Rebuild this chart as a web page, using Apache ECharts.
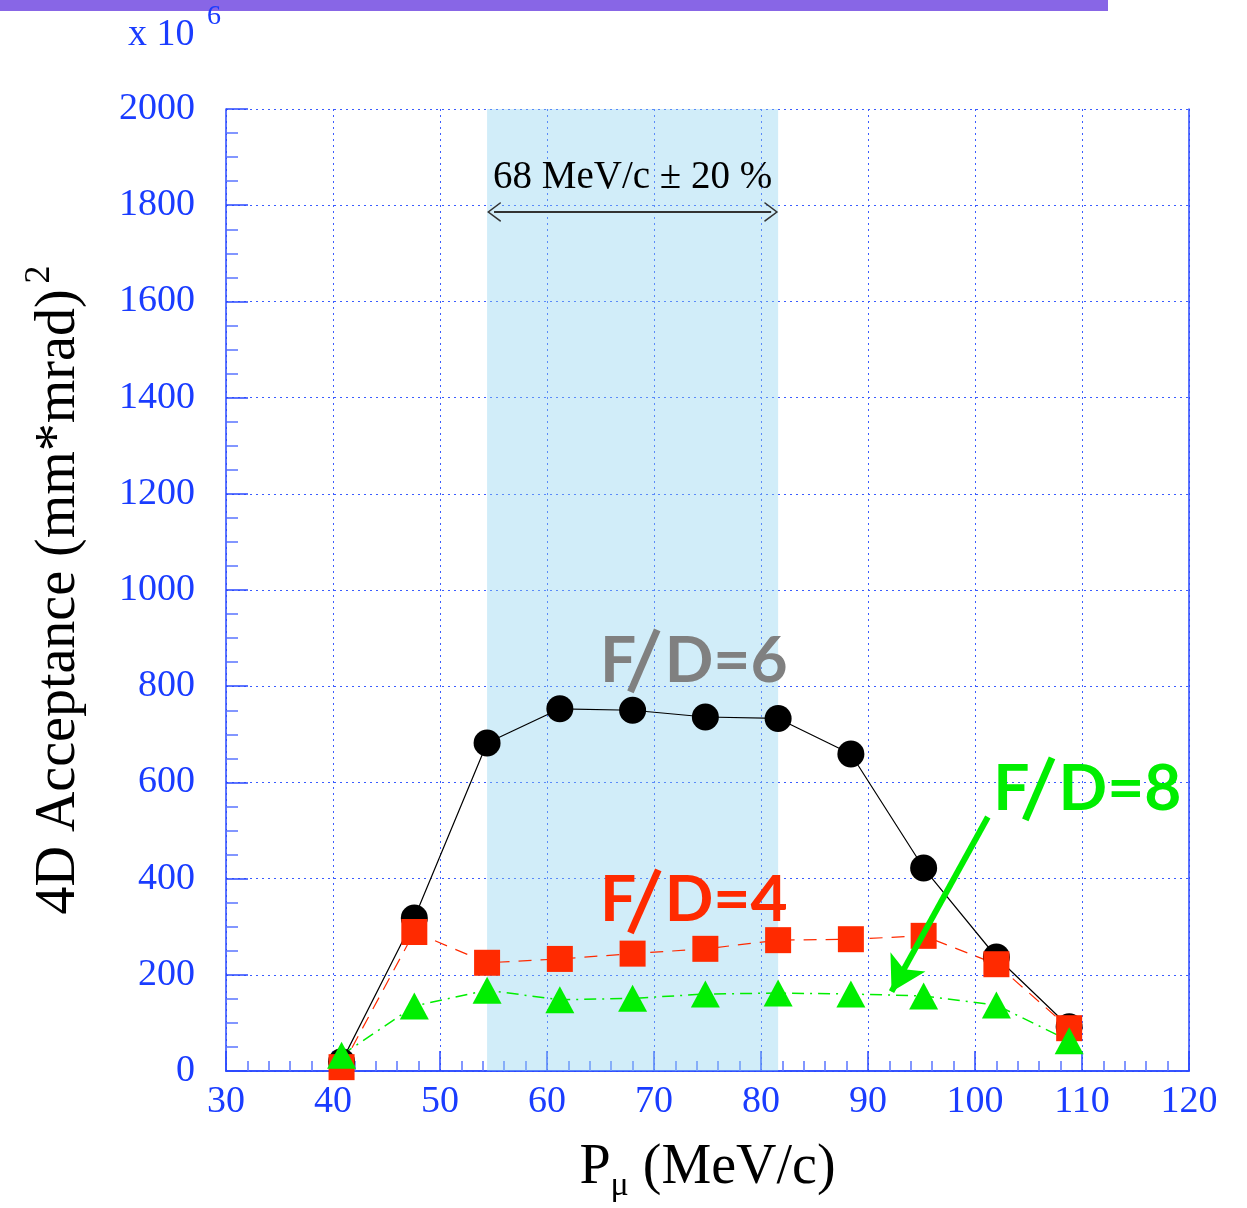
<!DOCTYPE html>
<html>
<head>
<meta charset="utf-8">
<script src="https://cdn.jsdelivr.net/npm/echarts@6/dist/echarts.min.js"></script>
<style>
  html, body { margin: 0; padding: 0; background: #fff; }
  #chart { width: 1247px; height: 1208px; }
</style>
</head>
<body>
<div id="chart"></div>
<script>
// momentum points: 68 MeV/c -40% .. +60% in 10% steps
var pMu = [40.8, 47.6, 54.4, 61.2, 68.0, 74.8, 81.6, 88.4, 95.2, 102.0, 108.8];
var fd6 = [19, 318, 682, 753, 750, 736, 733, 659, 422, 237, 92];
var fd4 = [8, 289, 225, 233, 244, 254, 272, 274, 281, 222, 89];
var fd8 = [33, 135, 168, 148, 151, 160, 162, 160, 156, 137, 63];
var xTicks = [30, 40, 50, 60, 70, 80, 90, 100, 110, 120];
var yTicks = [0, 200, 400, 600, 800, 1000, 1200, 1400, 1600, 1800, 2000];
var band = [54.4, 81.6];

var BLUE = '#1a3cff';
var RED = '#ff2a00';
var GREEN = '#00ee00';

function pairs(xs, ys) {
  return xs.map(function (x, i) { return [x, ys[i]]; });
}

var chart = echarts.init(document.getElementById('chart'));

var option = {
  animation: false,
  backgroundColor: '#fff',
  grid: { left: 226, right: 58, top: 109, bottom: 137 },
  xAxis: [{
    type: 'value',
    min: xTicks[0],
    max: xTicks[xTicks.length - 1],
    interval: 10,
    name: '{a|P}{b|μ}{a| (MeV/c)}',
    nameLocation: 'middle',
    nameGap: 62,
    nameTextStyle: {
      rich: {
        a: { fontFamily: 'Liberation Serif', fontSize: 56, color: '#000' },
        b: { fontFamily: 'Liberation Serif', fontSize: 34, color: '#000', padding: [36, 0, 0, 0] }
      }
    },
    axisLine: { show: true, lineStyle: { color: '#2a48ff', width: 1.5 } },
    axisTick: { show: true, inside: true, length: 20, lineStyle: { color: '#2a48ff', width: 1.5 } },
    minorTick: { show: true, splitNumber: 5, length: 10, lineStyle: { color: '#5a74ff', width: 1.5 } },
    axisLabel: { margin: 12, fontFamily: 'Liberation Serif', fontSize: 38, color: BLUE,
      formatter: function (v) { return String(v); } },
    splitLine: { show: true, lineStyle: { color: '#3a5cff', width: 1, type: [2, 4] } }
  }, {
    type: 'value',
    position: 'top',
    min: xTicks[0],
    max: xTicks[xTicks.length - 1],
    axisLine: { show: true, lineStyle: { color: '#2a48ff', width: 1.5 } },
    axisTick: { show: false },
    axisLabel: { show: false },
    splitLine: { show: false }
  }],
  yAxis: [{
    type: 'value',
    min: yTicks[0],
    max: yTicks[yTicks.length - 1],
    interval: 200,
    name: '{a|4D Acceptance (mm*mrad)}{s|2}',
    nameLocation: 'middle',
    nameGap: 130,
    nameRotate: 90,
    nameTextStyle: {
      rich: {
        a: { fontFamily: 'Liberation Serif', fontSize: 56, color: '#000' },
        s: { fontFamily: 'Liberation Serif', fontSize: 36, color: '#000', padding: [0, 0, 38, 6] }
      }
    },
    axisLine: { show: true, lineStyle: { color: '#2a48ff', width: 1.5 } },
    axisTick: { show: true, inside: true, length: 22, lineStyle: { color: '#2a48ff', width: 1.5 } },
    minorTick: { show: true, splitNumber: 4, length: 12, lineStyle: { color: '#5a74ff', width: 1.5 } },
    axisLabel: { margin: 31, fontFamily: 'Liberation Serif', fontSize: 38, color: BLUE,
      formatter: function (v) { return String(v); } },
    splitLine: { show: true, lineStyle: { color: '#3a5cff', width: 1, type: [2, 4] } }
  }, {
    type: 'value',
    position: 'right',
    min: yTicks[0],
    max: yTicks[yTicks.length - 1],
    axisLine: { show: true, lineStyle: { color: '#2a48ff', width: 1.5 } },
    axisTick: { show: false },
    axisLabel: { show: false },
    splitLine: { show: false }
  }],
  series: [
    {
      name: 'F/D=6',
      type: 'line',
      data: pairs(pMu, fd6),
      symbol: 'circle',
      symbolSize: 27,
      itemStyle: { color: '#000' },
      lineStyle: { color: '#000', width: 1.2 },
      markArea: {
        silent: true,
        itemStyle: { color: 'rgba(140, 210, 240, 0.4)' },
        data: [[{ xAxis: band[0] }, { xAxis: band[1] }]]
      },
      markLine: {
        silent: true,
        symbol: ['path://M0,20 L10,0 L20,20 L18.6,21 L10,3.6 L1.4,21 Z',
                 'path://M0,20 L10,0 L20,20 L18.6,21 L10,3.6 L1.4,21 Z'],
        symbolSize: [20, 14],
        lineStyle: { color: '#333', width: 2, type: 'solid' },
        label: { show: false },
        data: [[{ coord: [band[0] + 0.65, 1786] }, { coord: [band[1] - 0.65, 1786] }]]
      }
    },
    {
      name: 'F/D=4',
      type: 'line',
      data: pairs(pMu, fd4),
      symbol: 'rect',
      symbolSize: 26,
      itemStyle: { color: RED },
      lineStyle: { color: RED, width: 1.2, type: [13, 9] }
    },
    {
      name: 'F/D=8',
      type: 'line',
      data: pairs(pMu, fd8),
      symbol: 'triangle',
      symbolSize: [29, 27],
      itemStyle: { color: GREEN },
      lineStyle: { color: GREEN, width: 1.5, type: [12, 6, 2, 6] },
      markLine: {
        silent: true,
        symbol: ['none', 'arrow'],
        symbolSize: [30, 34],
        lineStyle: { color: GREEN, width: 6, type: 'solid' },
        label: { show: false },
        data: [[{ coord: [101.2, 528] }, { coord: [92.2, 165] }]]
      }
    }
  ]
};

chart.setOption(option);

// annotation labels anchored in data space
function px(x, y) { return chart.convertToPixel({ gridIndex: 0 }, [x, y]); }

function fdLabel(color, fLeft, yMid, slashTop, slashBot, dLeft, tail) {
  var a = px(fLeft, yMid);
  var d = px(dLeft, yMid);
  var s1 = px(slashTop[0], slashTop[1]);
  var s2 = px(slashBot[0], slashBot[1]);
  var font = { fontFamily: 'Lato', fontWeight: 'bold', fontSize: 64, fill: color, verticalAlign: 'middle', align: 'left' };
  return [
    { type: 'text', x: a[0], y: a[1], z: 100, style: Object.assign({ text: 'F' }, font) },
    { type: 'line', z: 100, shape: { x1: s1[0], y1: s1[1], x2: s2[0], y2: s2[1] },
      style: { stroke: color, lineWidth: 7 } },
    { type: 'text', x: d[0], y: d[1], z: 100, style: Object.assign({ text: tail }, font) }
  ];
}

var t = px(68, 1858);
var graphic = [
  { type: 'rect', left: 0, top: 0, shape: { width: 1108, height: 11 }, style: { fill: '#8866e6' } },
  { type: 'text', left: 128, top: 16, style: { text: 'x 10', fontFamily: 'Liberation Serif', fontSize: 38, fill: BLUE } },
  { type: 'text', left: 207, top: 3, style: { text: '6', fontFamily: 'Liberation Serif', fontSize: 28, fill: BLUE } },
  { type: 'text', x: t[0], y: t[1], z: 100,
    style: { text: '68 MeV/c ± 20 %', fontFamily: 'Liberation Serif', fontSize: 39, fill: '#000', align: 'center', verticalAlign: 'middle' } }
];
graphic = graphic
  .concat(fdLabel('#808080', 64.95, 852, [70.3, 917], [67.8, 788], 71.0, 'D=6'))
  .concat(fdLabel(RED, 64.95, 355, [70.4, 418], [67.8, 287], 71.0, 'D=4'))
  .concat(fdLabel(GREEN, 101.7, 586, [107.2, 651], [104.7, 522], 107.8, 'D=8'));

chart.setOption({ graphic: graphic });
</script>
</body>
</html>
